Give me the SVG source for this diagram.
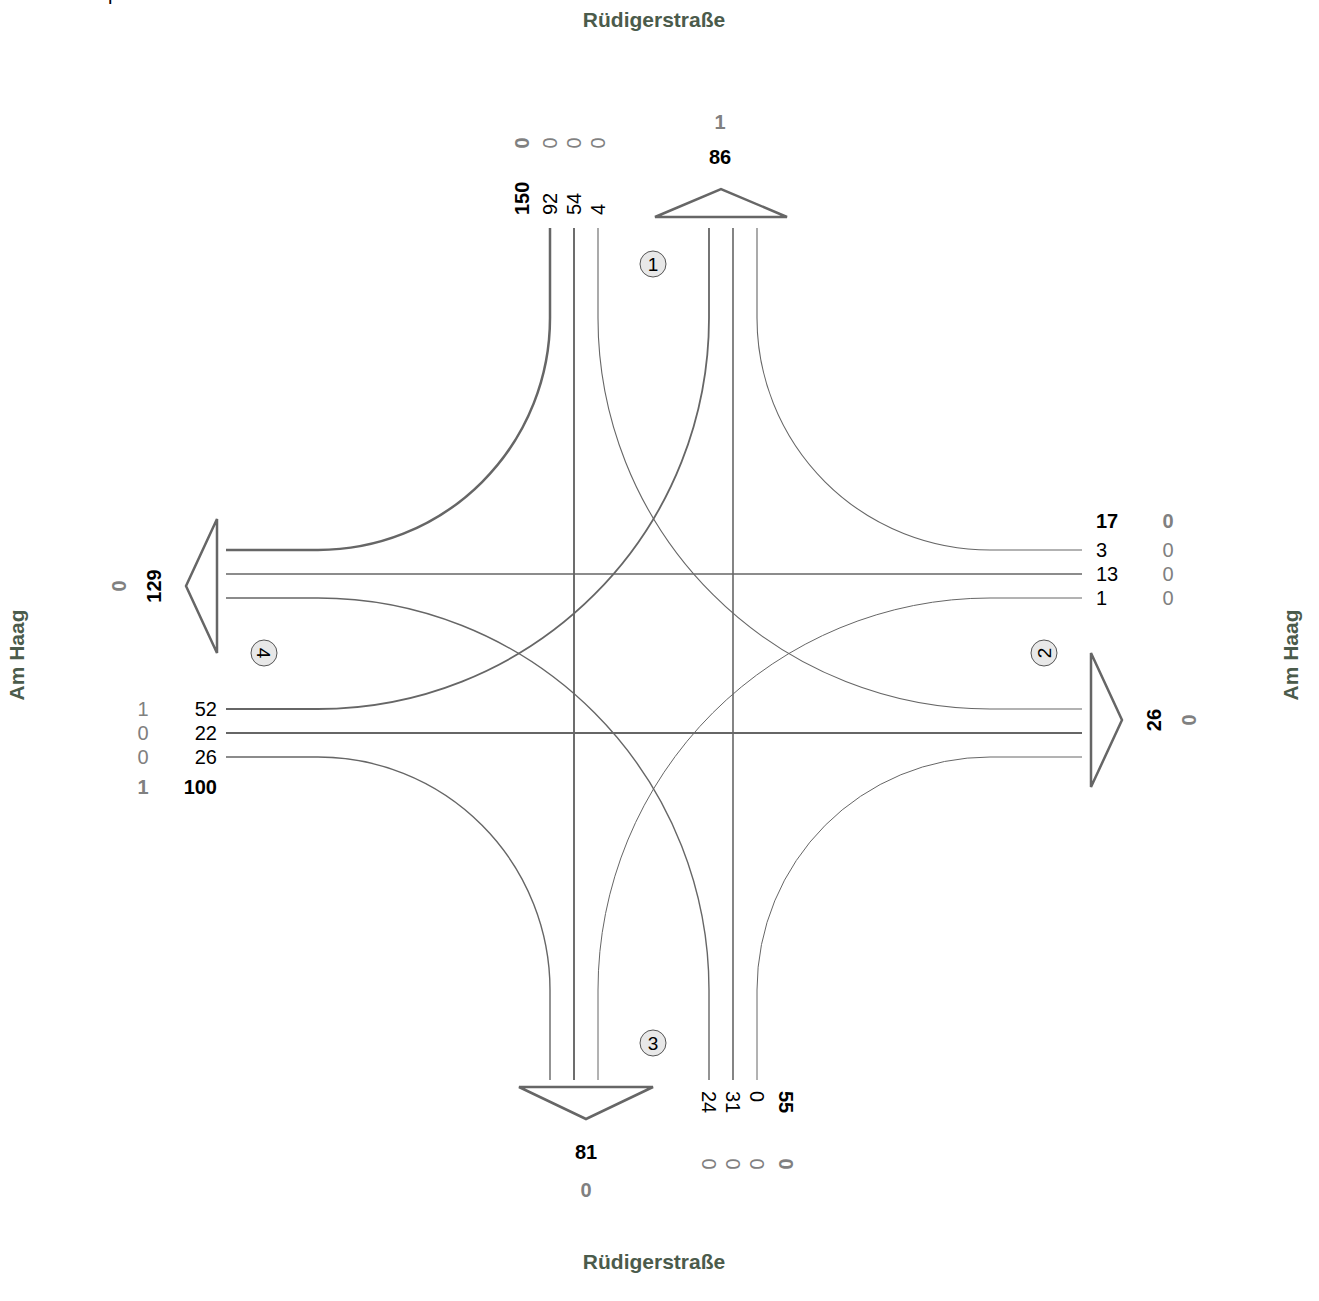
<svg xmlns="http://www.w3.org/2000/svg" width="1319" height="1301" viewBox="0 0 1319 1301">
<style>
text{font-family:"Liberation Sans",Arial,sans-serif;font-size:20px}
.b{font-weight:bold}
.k{fill:#000}
.g{fill:#808080}
.st{font-weight:bold;font-size:21px;fill:#4b5b4b}
.mv{fill:none;stroke:#666;stroke-linecap:butt}
.tri{fill:#fff;stroke:#666;stroke-width:2.5;stroke-linejoin:miter}
.cir{fill:#e8e8e8;stroke:#555;stroke-width:1}
.cn{font-size:19px;fill:#000;text-anchor:middle}
</style>
<rect width="1319" height="1301" fill="#fff"/>
<text x="108" y="0" style="font-size:20px">p</text>

<g id="connectors">
<path id="n-right" class="mv" style="stroke-width:2.5" d="M550,228 V318 A232,232 0 0 1 318,550 H226"/>
<path id="n-through" class="mv" style="stroke-width:1.9" d="M574,228 V1080"/>
<path id="n-left" class="mv" style="stroke-width:1.1" d="M598,228 V318 A392,391 0 0 0 990,709 H1082"/>
<path id="e-right" class="mv" style="stroke-width:1.1" d="M1082,550 H990 A233,232 0 0 1 757,318 V228"/>
<path id="e-through" class="mv" style="stroke-width:1.6" d="M1082,574 H226"/>
<path id="e-left" class="mv" style="stroke-width:1" d="M1082,598 H990 A392,392 0 0 0 598,990 V1080"/>
<path id="s-left" class="mv" style="stroke-width:1.4" d="M709,1080 V990 A391,392 0 0 0 318,598 H226"/>
<path id="s-through" class="mv" style="stroke-width:1.6" d="M733,1080 V228"/>
<path id="s-right" class="mv" style="stroke-width:1" d="M757,1080 V990 A233,233 0 0 1 990,757 H1082"/>
<path id="w-left" class="mv" style="stroke-width:1.8" d="M226,709 H318 A391,391 0 0 0 709,318 V228"/>
<path id="w-through" class="mv" style="stroke-width:1.8" d="M226,733 H1082"/>
<path id="w-right" class="mv" style="stroke-width:1.4" d="M226,757 H318 A232,233 0 0 1 550,990 V1080"/>
</g>

<g id="arm-north">
<polygon class="tri" points="655,217 787,217 721,189"/>
<text class="b g" x="720" y="129" text-anchor="middle">1</text>
<text class="b k" x="720" y="164" text-anchor="middle">86</text>
<text class="b g" transform="translate(522,143) rotate(-90)" text-anchor="middle" dy=".35em">0</text>
<text class="g" transform="translate(550,143) rotate(-90)" text-anchor="middle" dy=".35em">0</text>
<text class="g" transform="translate(574,143) rotate(-90)" text-anchor="middle" dy=".35em">0</text>
<text class="g" transform="translate(598,143) rotate(-90)" text-anchor="middle" dy=".35em">0</text>
<text class="b k" transform="translate(522,215) rotate(-90)" dy=".35em">150</text>
<text class="k" transform="translate(550,215) rotate(-90)" dy=".35em">92</text>
<text class="k" transform="translate(574,215) rotate(-90)" dy=".35em">54</text>
<text class="k" transform="translate(598,215) rotate(-90)" dy=".35em">4</text>
</g>

<g id="arm-east">
<polygon class="tri" points="1091,653 1091,787 1122,720"/>
<text class="b k" x="1096" y="528">17</text>
<text class="b g" x="1168" y="528" text-anchor="middle">0</text>
<text class="k" x="1096" y="557">3</text>
<text class="k" x="1096" y="581">13</text>
<text class="k" x="1096" y="605">1</text>
<text class="g" x="1168" y="557" text-anchor="middle">0</text>
<text class="g" x="1168" y="581" text-anchor="middle">0</text>
<text class="g" x="1168" y="605" text-anchor="middle">0</text>
<text class="b k" transform="translate(1154,720) rotate(-90)" text-anchor="middle" dy=".35em">26</text>
<text class="b g" transform="translate(1189,720) rotate(-90)" text-anchor="middle" dy=".35em">0</text>
</g>

<g id="arm-south">
<polygon class="tri" points="519,1087 653,1087 586,1119"/>
<text class="b k" x="586" y="1159" text-anchor="middle">81</text>
<text class="b g" x="586" y="1197" text-anchor="middle">0</text>
<text class="k" transform="translate(709,1091) rotate(90)" dy=".35em">24</text>
<text class="k" transform="translate(733,1091) rotate(90)" dy=".35em">31</text>
<text class="k" transform="translate(757,1091) rotate(90)" dy=".35em">0</text>
<text class="b k" transform="translate(786,1091) rotate(90)" dy=".35em">55</text>
<text class="g" transform="translate(709,1164) rotate(90)" text-anchor="middle" dy=".35em">0</text>
<text class="g" transform="translate(733,1164) rotate(90)" text-anchor="middle" dy=".35em">0</text>
<text class="g" transform="translate(757,1164) rotate(90)" text-anchor="middle" dy=".35em">0</text>
<text class="b g" transform="translate(786,1164) rotate(90)" text-anchor="middle" dy=".35em">0</text>
</g>

<g id="arm-west">
<polygon class="tri" points="217,519 217,653 186,586"/>
<text class="b k" transform="translate(154,586) rotate(-90)" text-anchor="middle" dy=".35em">129</text>
<text class="b g" transform="translate(119,586) rotate(-90)" text-anchor="middle" dy=".35em">0</text>
<text class="k" x="217" y="716" text-anchor="end">52</text>
<text class="k" x="217" y="740" text-anchor="end">22</text>
<text class="k" x="217" y="764" text-anchor="end">26</text>
<text class="b k" x="217" y="794" text-anchor="end">100</text>
<text class="g" x="143" y="716" text-anchor="middle">1</text>
<text class="g" x="143" y="740" text-anchor="middle">0</text>
<text class="g" x="143" y="764" text-anchor="middle">0</text>
<text class="b g" x="143" y="794" text-anchor="middle">1</text>
</g>

<g id="marker-1"><circle class="cir" cx="653" cy="264" r="13"/><text class="cn" x="653" y="264" dy=".35em">1</text></g>
<g id="marker-2"><circle class="cir" cx="1044" cy="653" r="13"/><text class="cn" transform="translate(1044,653) rotate(-90)" dy=".35em">2</text></g>
<g id="marker-3"><circle class="cir" cx="653" cy="1043" r="13"/><text class="cn" x="653" y="1043" dy=".35em">3</text></g>
<g id="marker-4"><circle class="cir" cx="264" cy="653" r="13"/><text class="cn" transform="translate(264,653) rotate(90)" dy=".35em">4</text></g>

<g id="street-labels">
<text class="st" x="654" y="27" text-anchor="middle">Rüdigerstraße</text>
<text class="st" x="654" y="1269" text-anchor="middle">Rüdigerstraße</text>
<text class="st" transform="translate(17,655) rotate(-90)" text-anchor="middle" dy=".35em">Am Haag</text>
<text class="st" transform="translate(1291,655) rotate(-90)" text-anchor="middle" dy=".35em">Am Haag</text>
</g>
</svg>
